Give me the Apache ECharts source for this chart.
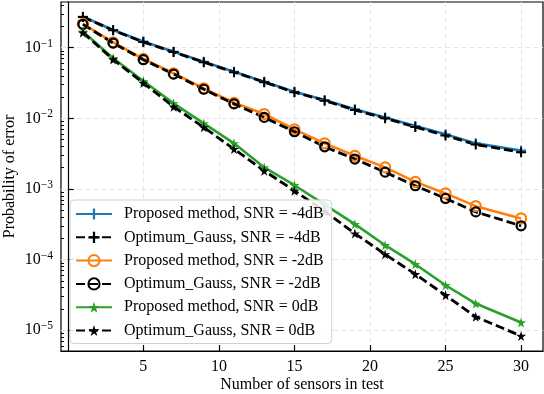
<!DOCTYPE html>
<html>
<head>
<meta charset="utf-8">
<script src="https://cdn.jsdelivr.net/npm/echarts@6/dist/echarts.min.js"></script>
<style>
  html, body { margin: 0; padding: 0; background: #fff; }
  #chart { width: 544px; height: 394px; }
</style>
</head>
<body>
<div id="chart"></div>
<script>
// number of sensors in test
const sensors = [1, 3, 5, 7, 9, 11, 13, 15, 17, 19, 21, 23, 25, 27, 30];

// probability of error
const propM4 = [0.275, 0.178, 0.122, 0.0878, 0.0633, 0.0457, 0.0330, 0.0238, 0.0182, 0.0134, 0.0103, 0.00778, 0.00593, 0.00442, 0.00349];
const gaussM4 = [0.272, 0.176, 0.120, 0.0865, 0.0622, 0.0450, 0.0325, 0.0234, 0.0178, 0.0131, 0.0100, 0.00755, 0.00572, 0.00425, 0.00332];
const propM2 = [0.217, 0.119, 0.0692, 0.0434, 0.0266, 0.0166, 0.0115, 0.00698, 0.00442, 0.00295, 0.00202, 0.00126, 0.000865, 0.000571, 0.000383];
const gaussM2 = [0.214, 0.116, 0.0676, 0.0422, 0.0258, 0.0160, 0.0103, 0.00646, 0.00395, 0.00265, 0.00173, 0.00111, 0.000735, 0.000474, 0.000301];
const prop0 = [0.169, 0.0708, 0.0337, 0.0163, 0.00849, 0.00443, 0.00202, 0.00113, 0.000600, 0.000318, 0.000160, 0.0000861, 0.0000434, 0.0000239, 0.0000129];
const gauss0 = [0.163, 0.0681, 0.0316, 0.0146, 0.00745, 0.00367, 0.00181, 0.000942, 0.000485, 0.000234, 0.000119, 0.0000622, 0.0000313, 0.0000155, 0.0000083];

// ticks
const xTicks = [5, 10, 15, 20, 25, 30];
const yMajor = [1e-5, 1e-4, 1e-3, 1e-2, 1e-1];
const yMinor = [];
[1e-6, 1e-5, 1e-4, 1e-3, 1e-2, 1e-1].forEach(function (d) {
  for (let k = 2; k <= 9; k++) {
    const v = k * d;
    if (v > 5.09e-6 && v < 0.443) yMinor.push(v);
  }
});

const font = "'Liberation Serif', 'Times New Roman', serif";
const plusPath = 'path://M4,0H6V4H10V6H6V10H4V6H0V4H4Z';
const starPath = 'path://M50,0L61,35L98,35L68,57L79,91L50,70L21,91L32,57L2,35L39,35Z';

function pairs(ys) {
  return sensors.map(function (x, i) { return [x, ys[i]]; });
}

function marker(symbol, color) {
  if (symbol === 'circle') {
    return { color: 'rgba(0,0,0,0)', borderColor: color, borderWidth: 2.2 };
  }
  return { color: color, borderWidth: 0 };
}

function solid(name, color, ys, symbol, size) {
  return {
    name: name, type: 'line', data: pairs(ys),
    symbol: symbol, symbolSize: size,
    lineStyle: { color: color, width: 2.6 },
    itemStyle: marker(symbol, color),
    emphasis: { disabled: true }
  };
}
function dashed(name, ys, symbol, size) {
  return {
    name: name, type: 'line', data: pairs(ys),
    symbol: symbol, symbolSize: size,
    lineStyle: { color: '#000', width: 2.8, type: [9, 4] },
    itemStyle: marker(symbol, '#000'),
    emphasis: { disabled: true }
  };
}

let chart = echarts.init(document.getElementById('chart'));
const option = {
  animation: false,
  textStyle: { fontFamily: font },
  grid: {
    left: 61, right: 1, top: 2, bottom: 43,
    outerBoundsMode: 'none',
    containLabel: false,
    show: true, borderColor: '#000', borderWidth: 1.2
  },
  legend: {
    orient: 'vertical',
    left: 70, top: 200,
    padding: [6, 8, 5, 5],
    itemWidth: 36, itemHeight: 14, itemGap: 7.3,
    backgroundColor: 'rgba(255,255,255,0.85)',
    borderColor: '#d0d0d0', borderWidth: 1, borderRadius: 4,
    textStyle: { fontFamily: font, fontSize: 16, color: '#000', lineHeight: 16, padding: [0, 0, 0, 7] },
    data: [
      'Proposed method, SNR = -4dB', 'Optimum_Gauss, SNR = -4dB',
      'Proposed method, SNR = -2dB', 'Optimum_Gauss, SNR = -2dB',
      'Proposed method, SNR = 0dB', 'Optimum_Gauss, SNR = 0dB'
    ]
  },
  xAxis: {
    type: 'value', min: -0.45, max: 31.45,
    name: 'Number of sensors in test', nameLocation: 'middle', nameGap: 26,
    nameMoveOverlap: false,
    nameTextStyle: { fontFamily: font, fontSize: 16, color: '#000' },
    axisLine: { show: true, lineStyle: { color: '#000', width: 1.2 } },
    axisTick: { inside: true, length: 6, customValues: xTicks, lineStyle: { color: '#000', width: 1.2 } },
    axisLabel: { customValues: xTicks, margin: 8, fontFamily: font, fontSize: 16, color: '#000' },
    splitLine: { show: true, lineStyle: { color: '#e6e6e6', width: 1, type: [5, 3] } }
  },
  yAxis: [
    {
      type: 'log', min: 5.09e-6, max: 0.443, position: 'left',
      name: 'Probability of error', nameLocation: 'middle', nameGap: 43,
      nameMoveOverlap: false,
      nameTextStyle: { fontFamily: font, fontSize: 16, color: '#000' },
      axisLine: { show: true, lineStyle: { color: '#000', width: 1.2 } },
      axisTick: { inside: true, length: 6, customValues: yMajor, lineStyle: { color: '#000', width: 1.2 } },
      axisLabel: {
        customValues: yMajor, margin: 8, color: '#000',
        formatter: function (v) {
          const e = Math.round(Math.log10(v));
          return '{b|10}{s|\u2212' + (-e) + '}';
        },
        rich: {
          b: { fontFamily: font, fontSize: 16, color: '#000' },
          s: { fontFamily: font, fontSize: 11.5, color: '#000', padding: [0, 0, 8, 0] }
        }
      },
      splitLine: { show: true, lineStyle: { color: '#e6e6e6', width: 1, type: [5, 3] } }
    },
    {
      type: 'log', min: 5.09e-6, max: 0.443, position: 'left', offset: 0,
      axisLine: { show: false },
      axisTick: { show: true, inside: true, length: 3, customValues: yMinor, lineStyle: { color: '#000', width: 1 } },
      axisLabel: { show: false },
      splitLine: { show: false }
    }
  ],
  series: [
    solid('Proposed method, SNR = -4dB', '#1f77b4', propM4, plusPath, 10),
    dashed('Optimum_Gauss, SNR = -4dB', gaussM4, plusPath, 10),
    solid('Proposed method, SNR = -2dB', '#ff7f0e', propM2, 'circle', 10),
    dashed('Optimum_Gauss, SNR = -2dB', gaussM2, 'circle', 9),
    solid('Proposed method, SNR = 0dB', '#2ca02c', prop0, starPath, 10),
    dashed('Optimum_Gauss, SNR = 0dB', gauss0, starPath, 10)
  ]
};
chart.setOption(option);
window.addEventListener('resize', function () {
  chart.resize();
});
</script>
</body>
</html>
